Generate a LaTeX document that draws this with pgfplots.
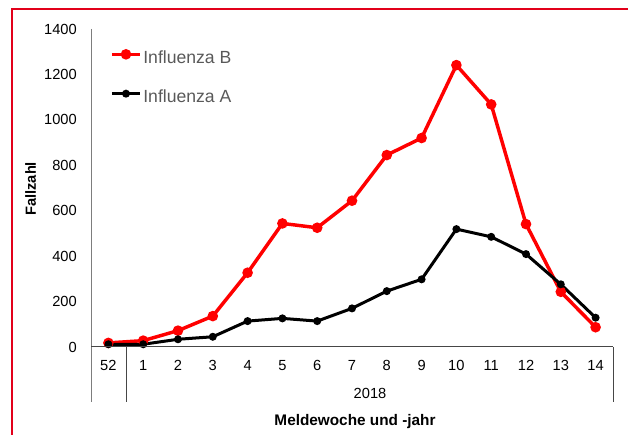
\documentclass[border=0pt]{standalone}
\usepackage{fontspec}
\setmainfont{Liberation Sans}
\usepackage{pgfplots}
\pgfplotsset{compat=1.18}
\definecolor{frame}{RGB}{226,0,26}
\definecolor{axgray}{RGB}{125,125,125}
\definecolor{axdark}{RGB}{70,70,70}
\definecolor{leggray}{RGB}{89,89,89}
\begin{document}
\begin{tikzpicture}
\path[use as bounding box] (0,0) rectangle (471pt,326.25pt);
\begin{axis}[
  at={(68.25pt,66pt)}, anchor=south west,
  scale only axis, width=391.5pt, height=238.5pt,
  xmin=-0.5, xmax=14.5, ymin=0, ymax=1400,
  xtick={0,...,14},
  xticklabels={52,1,2,3,4,5,6,7,8,9,10,11,12,13,14},
  ytick={0,200,...,1400},
  major tick length=0pt,
  axis line style={draw=none},
  clip=false,
  /pgf/number format/assume math mode=true,
  /pgf/number format/1000 sep={},
  scaled y ticks=false,
  tick label style={font=\fontsize{11}{13}\selectfont},
  yticklabel style={inner xsep=0pt, xshift=-10.5pt},
  xticklabel style={anchor=base, yshift=-18pt},
  legend style={draw=none, fill=none, at={(rel axis cs:0,1)}, xshift=11.25pt, yshift=-14pt,
    anchor=north west, font=\fontsize{13.2}{15}\selectfont, text=leggray,
    nodes={inner sep=0pt, text height=9.5pt, text depth=2.7pt}, row sep=17.3pt,
    /tikz/every odd column/.append style={column sep=1.2pt}},
  legend cell align=left,
  legend image code/.code={\draw[mark repeat=2,mark phase=2] plot coordinates {(0pt,0.33em) (10.5pt,0.33em) (21pt,0.33em)};},
]
\addplot[red, line width=2.6pt, mark=*, mark options={scale=1.3}] coordinates {
 (0,18) (1,28) (2,72) (3,136) (4,327) (5,544) (6,525) (7,644) (8,845) (9,920) (10,1241) (11,1068) (12,541) (13,243) (14,87)};
\addlegendentry{Influenza B}
\addplot[black, line width=2.25pt, mark=*, mark options={scale=0.9}] coordinates {
 (0,12) (1,12) (2,34) (3,45) (4,114) (5,126) (6,114) (7,170) (8,246) (9,298) (10,519) (11,485) (12,409) (13,276) (14,129)};
\addlegendentry{Influenza A}
\end{axis}
\draw[axgray, line width=0.75pt] (68.25pt,304.5pt) -- (68.25pt,24.75pt);
\draw[axdark, line width=0.75pt] (68.25pt,66pt) -- (459.75pt,66pt);
\draw[axdark, line width=0.75pt] (459.75pt,66pt) -- (459.75pt,24.75pt);
\draw[axdark, line width=0.75pt] (94.5pt,66pt) -- (94.5pt,24.75pt);
\node[anchor=base, inner sep=0pt, font=\fontsize{11}{13}\selectfont] at (277.5pt,27pt) {2018};
\node[anchor=base, inner sep=0pt, font=\bfseries\fontsize{11.5}{14}\selectfont] at (266.25pt,6.75pt) {Meldewoche und -jahr};
\node[anchor=base, rotate=90, inner sep=0pt, font=\bfseries\fontsize{11}{13}\selectfont] at (27pt,184.6pt) {Fallzahl};
\draw[frame, line width=1.5pt] (9pt,0pt) -- (9pt,319.5pt) -- (471pt,319.5pt);
\end{tikzpicture}
\end{document}
